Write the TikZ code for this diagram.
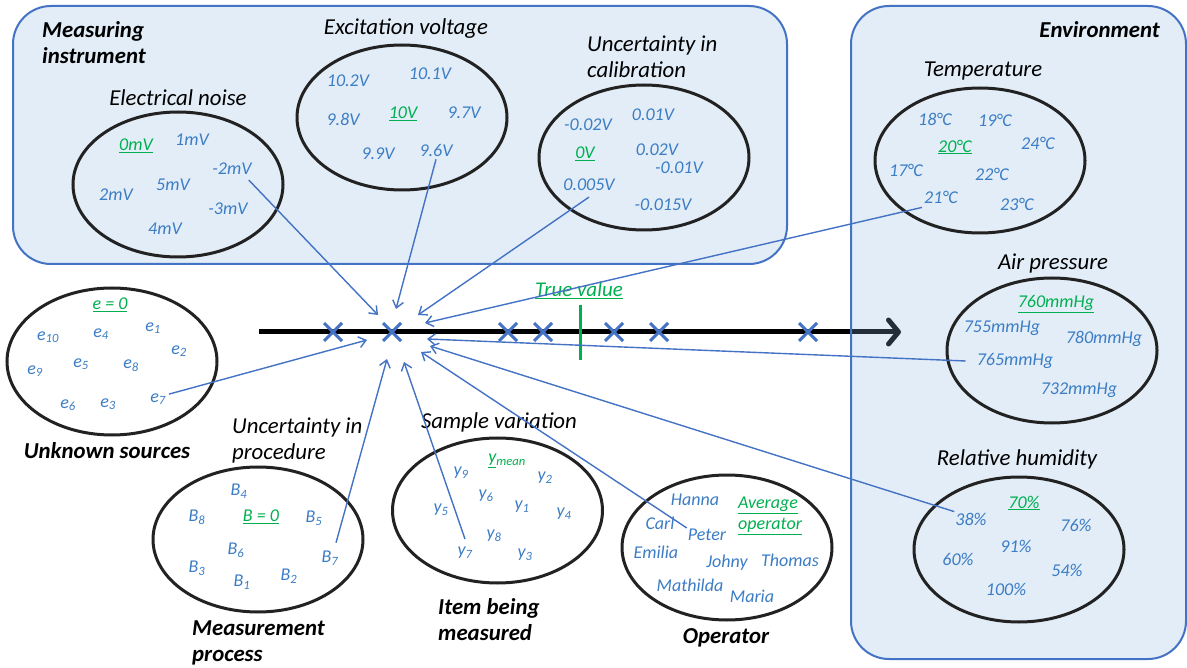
\documentclass[tikz,border=0pt]{standalone}
\usepackage{fontspec}
\setmainfont{Carlito}
\usetikzlibrary{shapes.geometric,shapes.misc,arrows.meta}
\definecolor{valblue}{HTML}{3C7DC4}
\definecolor{tgreen}{HTML}{00B050}
\definecolor{boxblue}{HTML}{4472C4}
\definecolor{boxtint}{HTML}{8FBBE3}
\definecolor{ellcol}{HTML}{222222}
\newcommand\valfnt{\fontsize{18}{21}\selectfont\itshape}
\newcommand\hdrfnt{\fontsize{22.8}{26}\selectfont\itshape}
\newcommand\lblfnt{\fontsize{22.8}{26}\selectfont\bfseries\itshape}
\begin{document}
\begin{tikzpicture}[x=1pt,y=-1pt,
  grp/.style={draw=boxblue, line width=2pt, fill=boxtint, fill opacity=0.25, rounded corners=38pt, inner sep=0pt, anchor=north west},
  ell/.style={ellipse, draw=ellcol, line width=3pt, inner sep=0pt, minimum width=210pt, minimum height=145pt},
  val/.style={text=valblue, font=\valfnt, inner sep=1pt},
  gval/.style={text=tgreen, font=\valfnt, inner sep=1pt},
  hdr/.style={font=\hdrfnt, inner sep=0pt, text=black, align=left},
  lbl/.style={font=\lblfnt, inner sep=0pt, text=black, align=left},
  conn/.style={draw=boxblue, line width=1.4pt, -{Straight Barb[length=7pt,width=11pt]}},
  xm/.style={cross out, draw=boxblue, line width=3pt, minimum size=15pt, inner sep=0pt},
]
\useasboundingbox (0,0) rectangle (1187,668);
\fill[white] (0,0) rectangle (1187,668);

% measuring instrument group
\node[grp, minimum width=774pt, minimum height=258pt] (mi) at (12,5) {};
\node[lbl, anchor=west] (mi-t) at (42,42.5) {Measuring\\instrument};

% axis
\coordinate (axL) at (259,332);
\coordinate (axR) at (901,332);
\draw[line width=5pt, -{Straight Barb[length=10pt,width=24pt,round]}] (axL) -- (axR);

% environment group
\node[grp, minimum width=335pt, minimum height=653pt] (env) at (850,5) {};
\node[lbl, anchor=east] (env-t) at (1160,30) {Environment};

% X marks
\node[xm] (x1) at (333,332) {};
\node[xm] (x2) at (392,332) {};
\node[xm] (x3) at (508,332) {};
\node[xm] (x4) at (543,332) {};
\node[xm] (x5) at (614,332) {};
\node[xm] (x6) at (659,332) {};
\node[xm] (x7) at (808,332) {};

% true value
\node[gval, font=\fontsize{21}{24}\selectfont\itshape] (tv) at (579,290) {\underline{True value}};
\coordinate (tvT) at (580,305);
\coordinate (tvB) at (580,360);
\draw[tgreen, line width=3pt] (tvT) -- (tvB);

% Electrical noise
\node[ell] (en) at (178,184.5) {};
\node[hdr] (en-t) at (178,98) {Electrical noise};
\node[gval] (en1) at (136,146) {\underline{0mV}};
\node[val] (en2) at (192,140) {1mV};
\node[val] (en3) at (232,169) {-2mV};
\node[val] (en4) at (173,185) {5mV};
\node[val] (en5) at (116,195) {2mV};
\node[val] (en6) at (228,209) {-3mV};
\node[val] (en7) at (165,229) {4mV};

% Excitation voltage
\node[ell] (ev) at (402,117.5) {};
\node[hdr] (ev-t) at (406,29) {Excitation voltage};
\node[val] (ev1) at (348,81) {10.2V};
\node[val] (ev2) at (430,74) {10.1V};
\node[val] (ev3) at (343,119) {9.8V};
\node[gval] (ev4) at (403,114) {\underline{10V}};
\node[val] (ev5) at (464,113) {9.7V};
\node[val] (ev6) at (378,154) {9.9V};
\node[val] (ev7) at (436,150) {9.6V};

% Uncertainty in calibration
\node[ell] (uc) at (644,157.5) {};
\node[hdr, anchor=west] (uc-t) at (587,57) {Uncertainty in\\calibration};
\node[val] (uc1) at (588,125) {-0.02V};
\node[val] (uc2) at (653,115) {0.01V};
\node[gval] (uc3) at (585,154) {\underline{0V}};
\node[val] (uc4) at (657,150) {0.02V};
\node[val] (uc5) at (679,168) {-0.01V};
\node[val] (uc6) at (589,185) {0.005V};
\node[val] (uc7) at (663,205) {-0.015V};

% Temperature
\node[ell] (tp) at (980,160.5) {};
\node[hdr] (tp-t) at (983,71) {Temperature};
\node[val] (tp1) at (935,119) {18°C};
\node[val] (tp2) at (995,120) {19°C};
\node[val] (tp3) at (1038,143) {24°C};
\node[gval] (tp4) at (955,147) {\underline{20°C}};
\node[val] (tp5) at (906,170) {17°C};
\node[val] (tp6) at (992,174) {22°C};
\node[val] (tp7) at (941,197) {21°C};
\node[val] (tp8) at (1017,204) {23°C};

% Air pressure
\node[ell] (ap) at (1052,350.5) {};
\node[hdr] (ap-t) at (1053,263) {Air pressure};
\node[gval] (ap1) at (1056,304) {\underline{760mmHg}};
\node[val] (ap2) at (1002,328) {755mmHg};
\node[val] (ap3) at (1104,339) {780mmHg};
\node[val] (ap4) at (1015,361) {765mmHg};
\node[val] (ap5) at (1079,390) {732mmHg};

% Relative humidity
\node[ell] (rh) at (1019,549.5) {};
\node[hdr] (rh-t) at (1017,459) {Relative humidity};
\node[gval] (rh1) at (1024,503) {\underline{70\%}};
\node[val] (rh2) at (971,519) {38\%};
\node[val] (rh3) at (1076,525) {76\%};
\node[val] (rh4) at (1016,546) {91\%};
\node[val] (rh5) at (958,559) {60\%};
\node[val] (rh6) at (1067,570) {54\%};
\node[val] (rh7) at (1006,589) {100\%};

% Unknown sources
\node[ell, minimum height=147pt] (us) at (112,361.5) {};
\node[lbl] (us-t) at (107,451) {Unknown sources};
\node[gval] (us0) at (110,305) {\underline{e = 0}};
\node[val] (us10) at (48,337) {e\textsubscript{10}};
\node[val] (us4) at (101,334) {e\textsubscript{4}};
\node[val] (us1) at (153,328) {e\textsubscript{1}};
\node[val] (us2) at (179,351) {e\textsubscript{2}};
\node[val] (us9) at (35,371) {e\textsubscript{9}};
\node[val] (us5) at (81,364) {e\textsubscript{5}};
\node[val] (us8) at (131,366) {e\textsubscript{8}};
\node[val] (us6) at (68,405) {e\textsubscript{6}};
\node[val] (us3) at (108,404) {e\textsubscript{3}};
\node[val] (us7) at (158,399) {e\textsubscript{7}};

% Measurement process
\node[ell] (mp) at (258,539.5) {};
\node[hdr, anchor=west] (mp-h) at (232,440) {Uncertainty in\\procedure};
\node[lbl, anchor=west] (mp-t) at (192,643) {Measurement\\process};
\node[val] (mp4) at (239,491) {B\textsubscript{4}};
\node[val] (mp8) at (197,517) {B\textsubscript{8}};
\node[gval] (mp0) at (261,517) {\underline{B = 0}};
\node[val] (mp5) at (314,518) {B\textsubscript{5}};
\node[val] (mp6) at (236,550) {B\textsubscript{6}};
\node[val] (mp3) at (197,568) {B\textsubscript{3}};
\node[val] (mp1) at (242,582) {B\textsubscript{1}};
\node[val] (mp2) at (289,576) {B\textsubscript{2}};
\node[val] (mp7) at (330,558) {B\textsubscript{7}};

% Item being measured
\node[ell] (im) at (497.5,510.5) {};
\node[hdr] (im-h) at (499,422) {Sample variation};
\node[lbl, anchor=west] (im-t) at (438,620) {Item being\\measured};
\node[gval] (imm) at (507,461) {\underline{y}\textsubscript{mean}};
\node[val] (im9) at (461,473) {y\textsubscript{9}};
\node[val] (im2) at (545,478) {y\textsubscript{2}};
\node[val] (im6) at (486,496) {y\textsubscript{6}};
\node[val] (im5) at (441,510) {y\textsubscript{5}};
\node[val] (im1) at (522,507) {y\textsubscript{1}};
\node[val] (im4) at (564,514) {y\textsubscript{4}};
\node[val] (im8) at (494,536) {y\textsubscript{8}};
\node[val] (im7) at (465,553) {y\textsubscript{7}};
\node[val] (im3) at (525,555) {y\textsubscript{3}};

% Operator
\node[ell] (op) at (727,547.5) {};
\node[lbl] (op-t) at (726,638) {Operator};
\node[val] (op1) at (695,500) {Hanna};
\node[gval, align=left, anchor=west] (op0) at (737,516) {\underline{Average}\\\underline{operator}};
\node[val] (op2) at (660,523) {Carl};
\node[val] (op3) at (707,535) {Peter};
\node[val] (op4) at (656,552) {Emilia};
\node[val] (op5) at (727,563) {Johny};
\node[val] (op6) at (790,560) {Thomas};
\node[val] (op7) at (690,585) {Mathilda};
\node[val] (op8) at (752,596) {Maria};

% arrow targets
\coordinate (c1) at (378,315);
\coordinate (c2) at (396,309);
\coordinate (c3) at (418,315);
\coordinate (c4) at (425,323);
\coordinate (c5) at (427,339);
\coordinate (c6) at (430,346);
\coordinate (c7) at (421,352);
\coordinate (c8) at (404,362);
\coordinate (c9) at (387,359);
\coordinate (c10) at (367,340);

\draw[conn] ([xshift=-4pt,yshift=-4pt]en3.south east) -- (c1);
\draw[conn] ([yshift=-2pt]ev7.south) -- (c2);
\draw[conn] ([yshift=-5pt]uc6.south) -- (c3);
\draw[conn] ([xshift=-1pt,yshift=-3pt]tp7.south west) -- (c4);
\draw[conn] ([xshift=-10pt]ap4.west) -- (c5);
\draw[conn] (rh2.north west) -- (c6);
\draw[conn] (op3.north west) -- (c7);
\draw[conn] ([yshift=7pt]im7.north) -- (c8);
\draw[conn] ([xshift=6pt,yshift=7pt]mp7.north) -- (c9);
\draw[conn] ([xshift=2pt,yshift=-2pt]us7.north east) -- (c10);
\end{tikzpicture}
\end{document}
